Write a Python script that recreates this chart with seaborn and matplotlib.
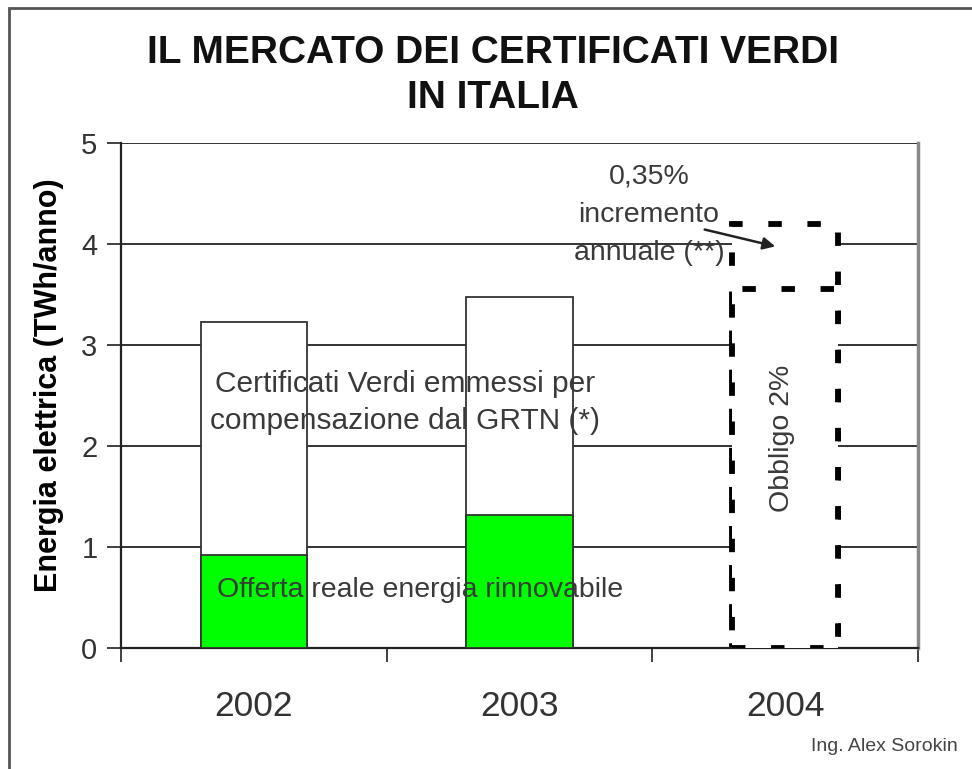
import numpy as np
import pandas as pd
import seaborn as sns
import matplotlib.pyplot as plt
from matplotlib.patches import Rectangle

# data
anni = ['2002', '2003', '2004']
totale_certificati = [3.23, 3.48, 4.20]   # altezza totale delle barre (TWh/anno)
offerta_reale = [0.92, 1.32]              # parte verde, 2002 e 2003
obbligo_2004 = [3.55]                     # obbligo 2% nel 2004
y_ticks = [0, 1, 2, 3, 4, 5]

sns.set_style('white')
plt.rcParams['font.family'] = ['Liberation Sans', 'DejaVu Sans']

fig = plt.figure(figsize=(9.72, 7.69), dpi=100)
ax = fig.add_axes([0.1245, 0.1573, 0.8199, 0.6567])

# grid lines behind the bars
for y in y_ticks[1:]:
    ax.axhline(y, color='#333333', lw=1.4, zorder=0)

# total bars (white with thin edge)
df_tot = pd.DataFrame({'anno': anni, 'valore': totale_certificati})
sns.barplot(data=df_tot, x='anno', y='valore', order=anni, color='white',
            saturation=1, edgecolor='#333333', linewidth=1.3, width=0.4,
            ax=ax, zorder=2)

# green bars for real renewable offer
df_off = pd.DataFrame({'anno': anni[:2], 'valore': offerta_reale})
sns.barplot(data=df_off, x='anno', y='valore', order=anni, color='#00ff00',
            saturation=1, edgecolor='#333333', linewidth=1.3, width=0.4,
            ax=ax, zorder=3)

# obbligo 2004
df_obb = pd.DataFrame({'anno': anni[2:], 'valore': obbligo_2004})
sns.barplot(data=df_obb, x='anno', y='valore', order=anni, color='white',
            saturation=1, edgecolor='black', linewidth=4.2, width=0.4,
            ax=ax, zorder=3)

# dashed style for the 2004 bars
for p in ax.patches:
    x0 = p.get_x() + p.get_width() / 2
    if abs(x0 - 2) < 0.01:
        p.set_linestyle((0, (2.3, 4.4)))
        p.set_capstyle('butt')
        p.set_edgecolor('black')
        p.set_linewidth(4.2)
        p.set_facecolor('white')

ax.set_xlim(-0.5, 2.5)
ax.set_ylim(0, 5)
ax.set_yticks(y_ticks)
ax.set_xlabel('')
ax.set_ylabel('Energia elettrica (TWh/anno)', fontsize=22, fontweight='bold',
              color='black')
ax.yaxis.set_label_coords(-0.072, 0.52)

ax.tick_params(axis='y', which='major', direction='out', length=10, width=1.3,
               color='#333333', labelsize=21, labelcolor='#333333', left=True,
               pad=7)
ax.tick_params(axis='x', which='major', length=0, labelsize=25.5,
               labelcolor='#333333', pad=30)
ax.set_xticks([-0.5, 0.5, 1.5, 2.5], minor=True)
ax.tick_params(axis='x', which='minor', direction='out', length=10, width=1.3,
               color='#333333', bottom=True)

for side in ['left', 'bottom']:
    ax.spines[side].set_color('#222222')
    ax.spines[side].set_linewidth(1.6)
ax.spines['top'].set_visible(False)
ax.spines['right'].set_color('#888888')
ax.spines['right'].set_linewidth(2.5)

# annotations
txt_col = '#3a3a3a'
ax.text(0.57, 2.43, 'Certificati Verdi emmessi per\ncompensazione dal GRTN (*)',
        ha='center', va='center', fontsize=21.5, color=txt_col, zorder=5,
        linespacing=1.38)
ax.text(0.625, 0.57, 'Offerta reale energia rinnovabile', ha='center',
        va='center', fontsize=20.5, color=txt_col, zorder=5)
ax.text(1.99, 2.08, 'Obbligo 2%', ha='center', va='center', rotation=90,
        fontsize=20.5, color=txt_col, zorder=5)
ax.text(1.487, 4.29, '0,35%\nincremento\nannuale (**)', ha='center',
        va='center', fontsize=20.5, color=txt_col, zorder=5, linespacing=1.6)
ax.annotate('', xy=(1.973, 3.97), xytext=(1.687, 4.15),
            arrowprops=dict(arrowstyle='-|>', color='#222222', lw=1.8,
                            mutation_scale=18), zorder=6)

fig.suptitle('IL MERCATO DEI CERTIFICATI VERDI\nIN ITALIA', x=0.507, y=0.955,
             va='top', fontsize=28, fontweight='bold', color='#111111',
             linespacing=1.35)
fig.text(0.985, 0.029, 'Ing. Alex Sorokin', ha='right', va='center',
         fontsize=14, color='#444444')

# frame of the original picture
fig.patches.append(Rectangle((0.009, -0.01), 1.2, 1.0, transform=fig.transFigure,
                             fill=False, edgecolor='#555555', lw=2))

fig.savefig('out.png', dpi=100)
